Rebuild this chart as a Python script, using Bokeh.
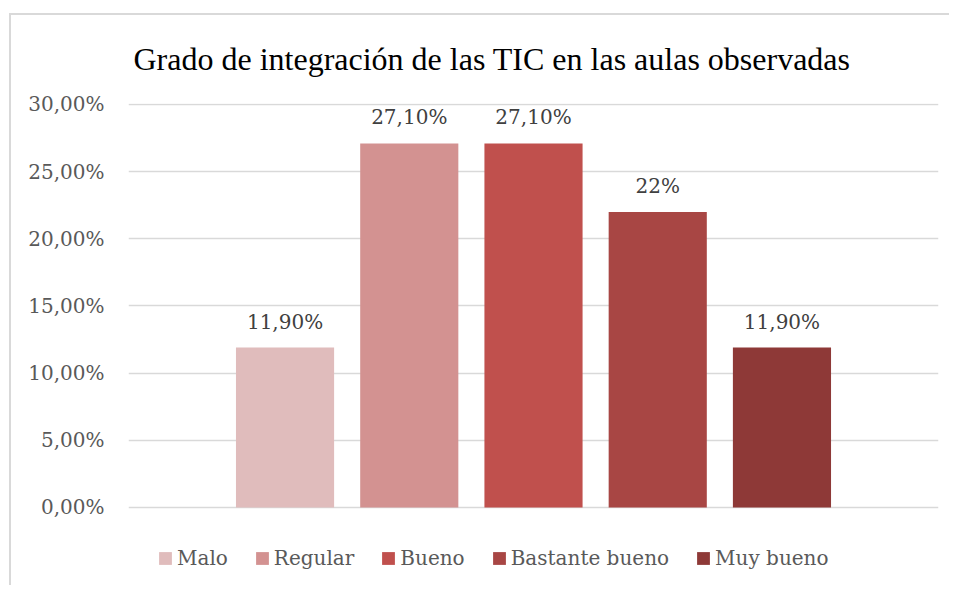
from bokeh.plotting import figure
from bokeh.models import (Range1d, ColumnDataSource, Legend, LegendItem,
                          CustomJSTickFormatter, FixedTicker)
from bokeh.core.properties import value
from bokeh.embed import file_html
from bokeh.resources import INLINE

# ---- data ----
categories = ["Malo", "Regular", "Bueno", "Bastante bueno", "Muy bueno"]
values = [0.119, 0.271, 0.271, 0.22, 0.119]
value_labels = ["11,90%", "27,10%", "27,10%", "22%", "11,90%"]
colors = ["#E0BCBC", "#D39291", "#C0504D", "#A84644", "#8E3937"]
y_ticks = [0.0, 0.05, 0.10, 0.15, 0.20, 0.25, 0.30]
title_text = "Grado de integración de las TIC en las aulas observadas"

xpos = list(range(len(categories)))
source = ColumnDataSource(dict(x=xpos, cat=categories, val=values, lab=value_labels, color=colors))

# y range extends below zero to leave room for the legend inside the plot frame
p = figure(
    width=940, height=572,
    x_range=Range1d(-1.26, 5.26),
    y_range=Range1d(-0.05955, 0.3007),
    output_backend="svg", toolbar_location=None,
    min_border_left=117, min_border_right=13, min_border_top=88, min_border_bottom=0,
)
p.margin = (13, 0, 0, 9)
p.styles = {"border-top": "2px solid #D9D9D9", "border-left": "2px solid #D9D9D9"}
p.outline_line_color = None
p.background_fill_color = "white"
p.border_fill_color = "white"

# title
p.title.text = title_text
p.title.align = "left"
p.title.vertical_align = "top"
p.title.offset = 5
p.title.text_font = "Liberation Serif"
p.title.text_font_size = "32px"
p.title.text_font_style = "normal"
p.title.text_color = "#000000"
p.title.standoff = 50

# grid
p.xgrid.grid_line_color = None
p.ygrid.grid_line_color = "#D9D9D9"
p.ygrid.grid_line_width = 1.5

# axes
p.xaxis.visible = False
yax = p.yaxis[0]
yax.ticker = FixedTicker(ticks=y_ticks)
yax.formatter = CustomJSTickFormatter(code="return (tick*100).toFixed(2).replace('.', ',') + '%';")
yax.axis_line_color = None
yax.major_tick_line_color = None
yax.minor_tick_line_color = None
yax.major_label_standoff = 18
yax.major_label_text_font = "DejaVu Serif"
yax.major_label_text_font_size = "20px"
yax.major_label_text_color = "#595959"

bars = p.vbar(x="x", top="val", width=0.79, source=source, fill_color="color", line_color=None)

p.text(x="x", y="val", text="lab", source=source, y_offset=-26,
       text_align="center", text_baseline="alphabetic",
       text_font=value("DejaVu Serif"), text_font_size="20px", text_color="#404040")

# legend
items = [LegendItem(label=c, renderers=[bars], index=i) for i, c in enumerate(categories)]
legend = Legend(items=items, orientation="horizontal", location=(29, 17),
                spacing=26, label_standoff=4, glyph_width=16, glyph_height=16,
                label_height=20,
                label_text_font="DejaVu Serif", label_text_font_size="20px",
                label_text_color="#595959", padding=0, margin=0,
                border_line_color=None, background_fill_alpha=0)
p.add_layout(legend, "center")

open("out.html", "w").write(file_html(p, INLINE))
